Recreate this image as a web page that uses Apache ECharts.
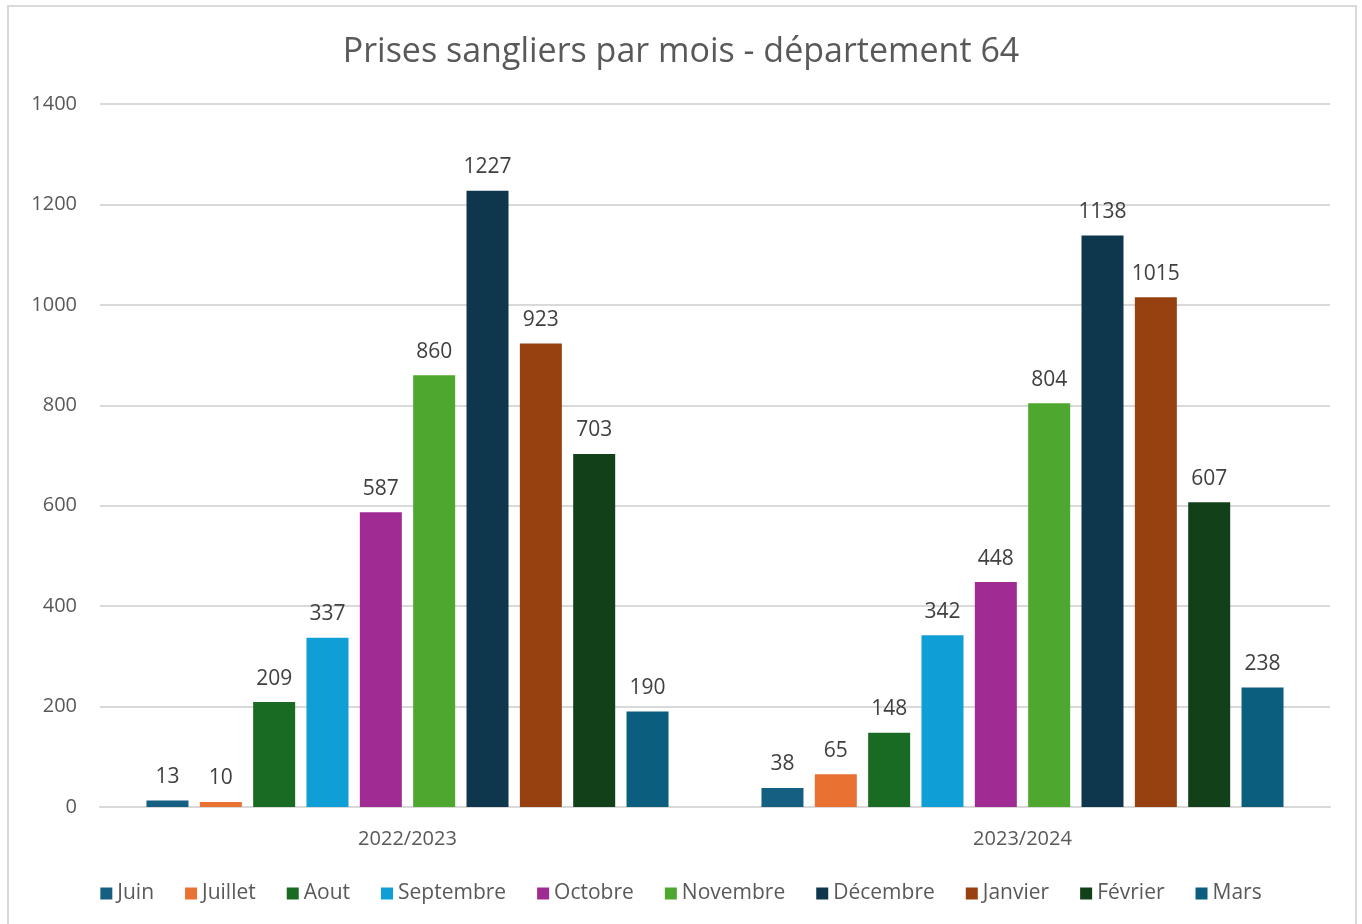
<!DOCTYPE html>
<html lang="fr">
<head>
    <meta charset="UTF-8">
    <title>Prises sangliers par mois</title>
    <script src="https://cdn.jsdelivr.net/npm/echarts@6/dist/echarts.min.js"></script>
    <style>
        html, body { margin: 0; padding: 0; background: #fff; }
        #main { width: 1362px; height: 924px; }
    </style>
</head>
<body>
<div id="main"></div>
<script>
    // saisons (catégories de l'axe x)
    var saisons = ['2022/2023', '2023/2024'];
    // mois (une série par mois)
    var mois = ['Juin', 'Juillet', 'Aout', 'Septembre', 'Octobre', 'Novembre', 'Décembre', 'Janvier', 'Février', 'Mars'];
    var couleurs = ['#156082', '#E97132', '#196B24', '#0F9ED5', '#A02B93', '#4EA72E', '#0E374D', '#974010', '#124019', '#0B5E7E'];
    // prises par mois, saison 2022/2023 puis 2023/2024
    var juin = [13, 38];
    var juillet = [10, 65];
    var aout = [209, 148];
    var septembre = [337, 342];
    var octobre = [587, 448];
    var novembre = [860, 804];
    var decembre = [1227, 1138];
    var janvier = [923, 1015];
    var fevrier = [703, 607];
    var mars = [190, 238];
    var valeurs = [juin, juillet, aout, septembre, octobre, novembre, decembre, janvier, fevrier, mars];

    var police = '"Open Sans", "Noto Sans", sans-serif';
    var myChart = echarts.init(document.getElementById('main'));

    var series = mois.map(function (nom, i) {
        return {
            name: nom,
            type: 'bar',
            data: valeurs[i],
            barWidth: 42,
            barGap: '27%',
            itemStyle: { color: couleurs[i] },
            label: {
                show: true,
                position: 'top',
                distance: 13,
                color: '#404040',
                fontSize: 21,
                fontFamily: police
            }
        };
    });

    var option = {
        backgroundColor: '#fff',
        animation: false,
        color: couleurs,
        title: {
            text: 'Prises sangliers par mois - département 64',
            left: 'center',
            top: 30,
            textStyle: { color: '#595959', fontSize: 34, fontWeight: 'normal', fontFamily: police }
        },
        legend: {
            data: mois,
            bottom: 15,
            left: 'center',
            itemWidth: 12,
            itemHeight: 12,
            itemGap: 31,
            icon: 'rect',
            textStyle: { color: '#595959', fontSize: 21, fontFamily: police }
        },
        grid: {
            left: 100,
            right: 32,
            top: 104,
            bottom: 117
        },
        xAxis: {
            type: 'category',
            data: saisons,
            axisTick: { show: false },
            axisLine: { lineStyle: { color: '#d9d9d9', width: 2 } },
            axisLabel: { color: '#595959', fontSize: 20, fontFamily: police, margin: 22 }
        },
        yAxis: {
            type: 'value',
            min: 0,
            max: 1400,
            interval: 200,
            axisLine: { show: false },
            axisTick: { show: false },
            splitLine: { lineStyle: { color: '#d9d9d9', width: 2 } },
            axisLabel: {
                color: '#595959', fontSize: 20, fontFamily: police, margin: 23,
                formatter: function (v) { return String(v); }
            }
        },
        graphic: [{
            type: 'rect',
            shape: { x: 8, y: 6, width: 1348, height: 930 },
            style: { fill: 'none', stroke: '#d9d9d9', lineWidth: 2 },
            silent: true
        }],
        series: series
    };
    myChart.setOption(option);
</script>
</body>
</html>
